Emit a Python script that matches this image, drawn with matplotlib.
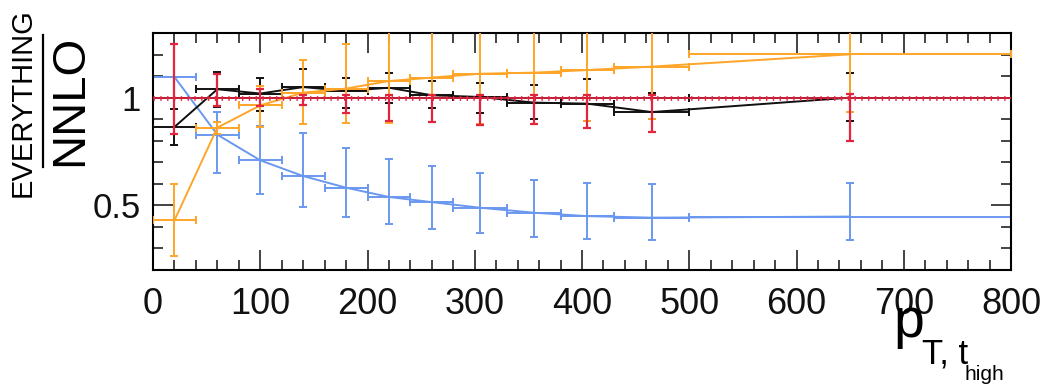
import matplotlib
matplotlib.use("Agg")
import matplotlib.pyplot as plt
import numpy as np
from matplotlib.ticker import MultipleLocator, FixedLocator

plt.rcParams['font.family'] = ['Liberation Sans', 'DejaVu Sans']
plt.rcParams['lines.scale_dashes'] = False

# ---- data ----
bin_edges = [0, 40, 80, 120, 160, 200, 240, 280, 330, 380, 430, 500, 800]
x_centers = [20, 60, 100, 140, 180, 220, 260, 305, 355, 405, 465, 650]

blue_val = [1.096, 0.828, 0.709, 0.636, 0.582, 0.539, 0.515, 0.489, 0.466, 0.450, 0.443, 0.448]
blue_lo  = [1.096, 0.649, 0.551, 0.492, 0.448, 0.415, 0.392, 0.373, 0.353, 0.342, 0.337, 0.339]
blue_hi  = [1.096, 0.932, 0.867, 0.838, 0.765, 0.717, 0.682, 0.652, 0.617, 0.605, 0.597, 0.605]

orange_val = [0.430, 0.861, 0.964, 1.023, 1.042, 1.077, 1.093, 1.111, 1.116, 1.128, 1.144, 1.201]
orange_lo  = [0.263, 0.830, 0.864, 0.879, 0.884, 0.884, 0.888, 0.876, 0.879, 0.891, 0.899, 0.933]
orange_hi  = [0.597, 0.885, 1.054, 1.175, 1.251, 1.45, 1.45, 1.45, 1.45, 1.45, 1.45, 1.45]

black_val = [0.864, 1.039, 1.019, 1.049, 1.031, 1.046, 1.011, 1.003, 0.977, 0.972, 0.933, 1.000]
black_lo  = [0.779, 0.956, 0.938, 0.966, 0.954, 0.974, 0.950, 0.927, 0.899, 0.891, 0.899, 0.891]
black_hi  = [0.946, 1.119, 1.093, 1.135, 1.093, 1.113, 1.077, 1.066, 1.057, 1.088, 1.023, 1.116]

red_val = [1.0] * 12
red_lo  = [0.830, 0.961, 0.961, 0.966, 0.931, 0.890, 0.888, 0.875, 0.878, 0.859, 0.839, 0.800]
red_hi  = [1.247, 1.108, 1.039, 1.010, 1.010, 1.010, 1.010, 1.010, 1.010, 1.012, 1.012, 1.019]

ref_value = 1.0
xlim = (0, 800)
ylim = (0.2, 1.3)
ytick_labels = {0.5: "0.5", 1.0: "1"}

BLUE = "#6a98f0"
ORANGE = "#ffa528"
RED = "#e3243f"
BLACK = "#111111"

W, H = 1048, 384
fig = plt.figure(figsize=(W / 100, H / 100), dpi=100)
ax = fig.add_axes([153 / W, 1 - 270 / H, (1011 - 153) / W, (270 - 33) / H])

xc = np.array(x_centers)
edges = np.array(bin_edges)
xerr = np.vstack([xc - edges[:-1], edges[1:] - xc])


def series(val, lo, hi, color, z, with_x=True, lw=1.4):
    val = np.array(val); lo = np.array(lo); hi = np.array(hi)
    yerr = np.vstack([val - lo, hi - val])
    ax.errorbar(xc, val, yerr=yerr, xerr=xerr if with_x else None, fmt='none',
                ecolor=color, elinewidth=lw, capsize=2.6, capthick=lw, zorder=z)
    ax.plot(xc, val, color=color, lw=lw, zorder=z)


# reference line
ax.plot([edges[0], edges[-1]], [ref_value, ref_value], color=BLACK, lw=1.4, zorder=1)

series(blue_val, blue_lo, blue_hi, BLUE, 2)
series(black_val, black_lo, black_hi, BLACK, 3)
series(orange_val, orange_lo, orange_hi, ORANGE, 4)

# red: nominal at 1 with fine tick pattern
rv = np.array(red_val)
ax.errorbar(xc, rv, yerr=np.vstack([rv - np.array(red_lo), np.array(red_hi) - rv]),
            fmt='none', ecolor=RED, elinewidth=1.6, capsize=2.6, capthick=1.6, zorder=5)
ax.plot([edges[0], edges[-1]], [red_val[0], red_val[-1]], color=RED, lw=1.2, zorder=5)
ax.plot([edges[0], edges[-1]], [red_val[0], red_val[-1]], color=RED, lw=3.4,
        dashes=(1.0, 3.9), solid_capstyle='butt', dash_capstyle='butt', zorder=5)

ax.set_xlim(*xlim)
ax.set_ylim(*ylim)

ax.xaxis.set_major_locator(MultipleLocator(100))
ax.xaxis.set_minor_locator(MultipleLocator(20))
ax.yaxis.set_major_locator(FixedLocator(list(ytick_labels.keys())))
ax.yaxis.set_minor_locator(MultipleLocator(0.1))
ax.set_yticklabels(list(ytick_labels.values()))

ax.tick_params(which='both', direction='in', top=True, right=True, width=1.1, colors=BLACK)
ax.tick_params(which='major', length=14.5)
ax.tick_params(which='minor', length=7.5)
ax.tick_params(axis='x', which='major', labelsize=26, pad=12)
ax.tick_params(axis='y', which='major', labelsize=25, pad=9)
for s in ax.spines.values():
    s.set_linewidth(1.5)

# y label: fraction EVERYTHING / NNLO
fig.text(23 / W, 1 - 103 / H, "EVERYTHING", rotation=90, ha='center', va='center', fontsize=21)
fig.text(70 / W, 1 - 100 / H, "NNLO", rotation=90, ha='center', va='center', fontsize=34)
fig.add_artist(plt.Line2D([43 / W, 43 / W], [1 - 35 / H, 1 - 167 / H], color='black', lw=1.6,
                          transform=fig.transFigure))

# x label p_{T, t_high}
fig.text(893 / W, 1 - 337 / H, "p", ha='left', va='baseline', fontsize=40)
fig.text(922 / W, 1 - 363 / H, "T, t", ha='left', va='baseline', fontsize=25)
fig.text(965 / W, 1 - 380 / H, "high", ha='left', va='baseline', fontsize=15)

fig.savefig("out.png", dpi=100)
